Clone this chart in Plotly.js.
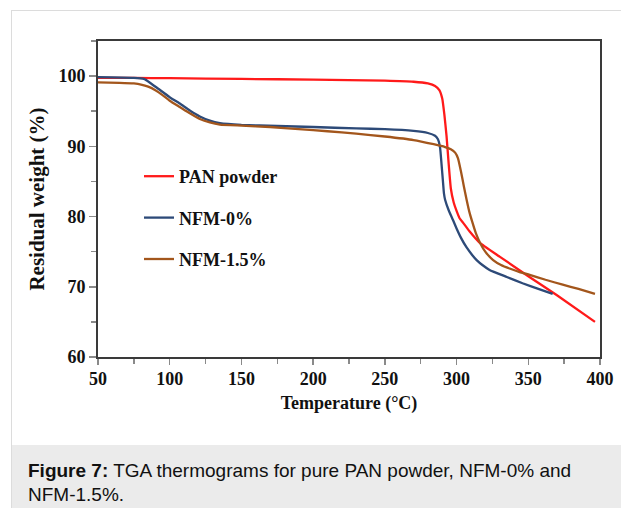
<!DOCTYPE html>
<html>
<head>
<meta charset="utf-8">
<script src="https://cdn.plot.ly/plotly-3.0.1.min.js"></script>
<style>
  html, body { margin: 0; padding: 0; background: #ffffff; }
  #chart { width: 621px; height: 508px; }
</style>
</head>
<body>
<div id="chart"></div>
<script>
// ---- Data (Temperature °C, residual weight %) ----
const seriesNames = ["PAN powder", "NFM-0%", "NFM-1.5%"];

const panT = [50, 75, 100, 150, 200, 250, 270, 280, 285, 288, 290, 291.5, 293, 294.5, 296, 298, 300, 302, 305, 309, 316, 330, 350, 370, 396.5];
const panW = [99.75, 99.75, 99.7, 99.6, 99.5, 99.35, 99.2, 98.95, 98.6, 98.0, 96.8, 94.5, 91.5, 87.5, 84.0, 82.0, 80.8, 79.8, 79.0, 77.9, 76.3, 74.3, 71.5, 68.8, 65.0];

const nfm0T = [50, 75, 82, 86, 92, 100, 107, 114, 121, 128, 135, 150, 175, 200, 230, 250, 270, 280, 285, 287, 288.5, 289.5, 290.5, 291.2, 292, 294.5, 297.5, 300, 303, 307, 311, 314, 318, 323, 335, 346, 357, 367];
const nfm0W = [99.85, 99.75, 99.6, 99.1, 98.2, 97.0, 96.1, 95.1, 94.25, 93.65, 93.3, 93.05, 92.9, 92.75, 92.55, 92.45, 92.2, 91.9, 91.5, 91.0, 89.8, 87.5, 85.0, 83.3, 82.4, 80.9, 79.5, 78.3, 77.0, 75.6, 74.5, 73.8, 73.1, 72.4, 71.4, 70.5, 69.7, 69.0];

const nfm15T = [50, 65, 75, 80, 85, 90, 95, 100, 107, 114, 121, 128, 135, 150, 170, 190, 210, 230, 250, 270, 284, 292, 296, 299, 301, 303, 305, 307, 309, 311, 313.5, 316.5, 320, 325.5, 331, 337, 344, 351, 362, 374, 385, 396.5];
const nfm15W = [99.1, 99.05, 98.95, 98.8, 98.5, 98.0, 97.3, 96.5, 95.6, 94.7, 93.9, 93.4, 93.1, 92.95, 92.75, 92.45, 92.15, 91.8, 91.4, 90.9, 90.3, 89.9, 89.6, 89.1, 88.3, 86.5, 84.4, 82.4, 80.6, 79.2, 77.6, 76.2, 75.0, 73.8, 73.1, 72.6, 72.1, 71.7, 71.0, 70.3, 69.7, 69.0];

const xTickVals = [50, 100, 150, 200, 250, 300, 350, 400];
const yTickVals = [60, 70, 80, 90, 100];

const xTitle = "Temperature (°C)";
const yTitle = "Residual weight (%)";
const captionLine1 = "<b>Figure 7:</b> TGA thermograms for pure PAN powder, NFM-0% and";
const captionLine2 = "NFM-1.5%.";

// ---- Styling ----
const serif = "Liberation Serif, 'Times New Roman', Times, serif";
const sans = "Liberation Sans, Arial, Helvetica, sans-serif";
const colors = ["#ff1a1a", "#2d4a78", "#a3561c"];

const W = 621, H = 508;
const M = { l: 98, r: 21, t: 41, b: 151 };
const plotW = W - M.l - M.r, plotH = H - M.t - M.b;
const px = x => (x - M.l) / plotW;          // page px -> paper x
const py = y => (H - M.b - y) / plotH;      // page px -> paper y

const mk = (t, w, i) => ({
  x: t, y: w, type: "scatter", mode: "lines",
  name: seriesNames[i], legendgroup: "g" + i,
  line: { color: colors[i], width: 2.3, shape: "spline", smoothing: 0.4 },
  hoverinfo: "skip"
});

const data = [mk(panT, panW, 0), mk(nfm0T, nfm0W, 1), mk(nfm15T, nfm15W, 2)];

const tickFont = { family: serif, size: 18, weight: "bold", color: "#111" };

const layout = {
  width: W, height: H,
  margin: M,
  paper_bgcolor: "#ffffff",
  plot_bgcolor: "#ffffff",
  showlegend: true,
  legend: {
    x: px(139), y: py(158), xanchor: "left", yanchor: "top",
    bgcolor: "rgba(0,0,0,0)", borderwidth: 0,
    font: { family: serif, size: 18, weight: "bold", color: "#111" },
    traceorder: "grouped", tracegroupgap: 15
  },
  xaxis: {
    range: [50, 400], tickvals: xTickVals, ticktext: xTickVals.map(String),
    ticks: "outside", ticklen: 6, tickwidth: 1.5, tickcolor: "#8a8a8a",
    minor: { dtick: 25, tick0: 50, ticks: "outside", ticklen: 5, tickwidth: 1.5, tickcolor: "#8a8a8a" },
    showline: true, linecolor: "#3a3a3a", linewidth: 2, mirror: true,
    showgrid: false, zeroline: false,
    tickfont: tickFont, ticklabelstandoff: -2,
    title: { text: xTitle, font: { family: serif, size: 18, weight: "bold", color: "#111" }, standoff: 9 }
  },
  yaxis: {
    range: [60, 105], tickvals: yTickVals, ticktext: yTickVals.map(String),
    ticks: "outside", ticklen: 7, tickwidth: 1.5, tickcolor: "#8a8a8a",
    minor: { dtick: 5, tick0: 60, ticks: "outside", ticklen: 5, tickwidth: 1.5, tickcolor: "#8a8a8a" },
    showline: true, linecolor: "#3a3a3a", linewidth: 2, mirror: true,
    showgrid: false, zeroline: false,
    tickfont: tickFont,
    title: { text: yTitle, font: { family: serif, size: 21, weight: "bold", color: "#111" }, standoff: 8 }
  },
  shapes: [
    // caption box
    { type: "rect", xref: "paper", yref: "paper", x0: px(11), x1: px(621), y0: py(508), y1: py(445),
      fillcolor: "#ebebeb", line: { width: 0 }, layer: "below" },
    // container border (top and left)
    { type: "line", xref: "paper", yref: "paper", x0: px(11), x1: px(621), y0: py(10.5), y1: py(10.5),
      line: { color: "#dcdcdc", width: 1 } },
    { type: "line", xref: "paper", yref: "paper", x0: px(11.5), x1: px(11.5), y0: py(10.5), y1: py(508),
      line: { color: "#dcdcdc", width: 1 } }
  ],
  annotations: [
    { xref: "paper", yref: "paper", x: px(26), y: py(470), xanchor: "left", yanchor: "middle",
      text: captionLine1, showarrow: false, align: "left",
      font: { family: sans, size: 19, color: "#111" } },
    { xref: "paper", yref: "paper", x: px(26), y: py(494), xanchor: "left", yanchor: "middle",
      text: captionLine2, showarrow: false, align: "left",
      font: { family: sans, size: 19, color: "#111" } }
  ]
};

Plotly.newPlot("chart", data, layout, { staticPlot: true, displayModeBar: false });
</script>
</body>
</html>
